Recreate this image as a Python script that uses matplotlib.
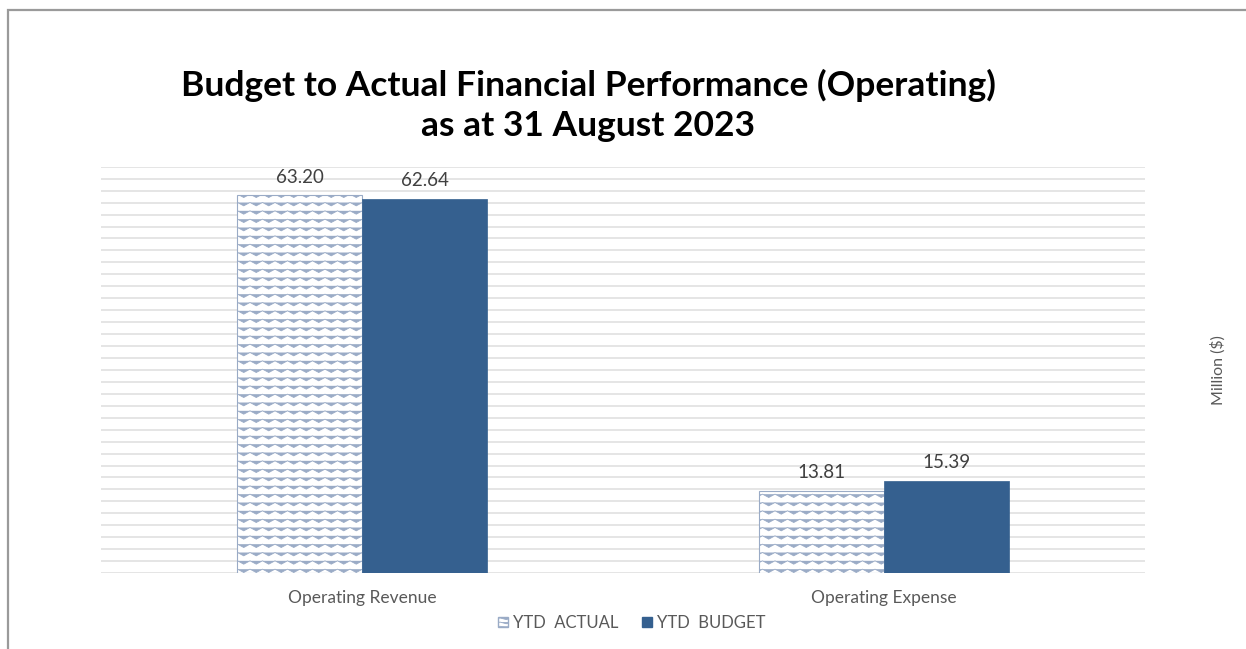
import warnings
import numpy as np
import matplotlib
matplotlib.use("Agg")
import matplotlib.pyplot as plt
from matplotlib import hatch as mhatch
from matplotlib.patches import Patch, Rectangle
from matplotlib.path import Path

categories = ["Operating Revenue", "Operating Expense"]
series_names = ["YTD  ACTUAL", "YTD  BUDGET"]
ytd_actual = [63.20, 13.81]
ytd_budget = [62.64, 15.39]

title = "Budget to Actual Financial Performance (Operating)\nas at 31 August 2023"
unit_label = "Million ($)"

dark_blue = "#35608f"
hatch_edge = "#9aabc6"
text_grey = "#595959"
grid_grey = "#e0e0e0"


# zigzag rows used for the actual bars ("~" in a hatch string)
class WaveHatch(mhatch.HatchPatternBase):
    periods = 8
    def __init__(self, hatch, density):
        self.num_rows = int(hatch.count("~") * density)
        self.num_vertices = self.num_rows * (2 * self.periods + 1)

    def set_vertices_and_codes(self, vertices, codes):
        pts_per_row = 2 * self.periods + 1
        xs = np.linspace(0, 1, pts_per_row)
        amp = 0.2 / max(self.num_rows, 1)
        wiggle = np.where(np.arange(pts_per_row) % 2 == 0, amp, -amp)
        for i in range(self.num_rows):
            y = (i + 0.5) / self.num_rows
            sl = slice(i * pts_per_row, (i + 1) * pts_per_row)
            vertices[sl, 0] = xs
            vertices[sl, 1] = y + wiggle
            codes[sl] = Path.LINETO
            codes[i * pts_per_row] = Path.MOVETO


mhatch._hatch_types.append(WaveHatch)
warnings.filterwarnings("ignore")

plt.rcParams["font.family"] = ["Lato", "DejaVu Sans"]
plt.rcParams["hatch.linewidth"] = 0.6

fig = plt.figure(figsize=(12.46, 6.49), dpi=100)
ax = fig.add_axes([0.0811, 0.117, 0.838, 0.626])

x = np.arange(len(categories))
w = 0.24
bars_a = ax.bar(x - w / 2, ytd_actual, w, color="white", edgecolor=hatch_edge,
                hatch="~~", linewidth=0.8, zorder=3, label=series_names[0])
bars_b = ax.bar(x + w / 2, ytd_budget, w, color=dark_blue, edgecolor=dark_blue,
                linewidth=0.5, zorder=3, label=series_names[1])

for bars, vals in ((bars_a, ytd_actual), (bars_b, ytd_budget)):
    ax.bar_label(bars, labels=[f"{v:.2f}" for v in vals], padding=7,
                 fontsize=13.5, color="#404040")

ax.set_xlim(-0.5, 1.5)
ax.set_ylim(0, 68)
ax.set_yticks(np.arange(0, 69, 2))
ax.yaxis.grid(True, color=grid_grey, linewidth=1.2, zorder=0)
ax.tick_params(axis="y", left=False, labelleft=False)
ax.tick_params(axis="x", bottom=False, labelsize=12.5, labelcolor=text_grey, pad=9)
ax.set_xticks(x)
ax.set_xticklabels(categories)
for s in ax.spines.values():
    s.set_visible(False)

ax.yaxis.set_label_position("right")
ax.set_ylabel(unit_label, fontsize=11.5, color=text_grey, labelpad=47)

fig.text(0.472, 0.837, title, ha="center", va="center", fontsize=25.5,
         fontweight="bold", color="black", linespacing=1.3)

handles = [Patch(facecolor="white", edgecolor=hatch_edge, hatch="~~~~", label=series_names[0]),
           Patch(facecolor=dark_blue, edgecolor=dark_blue, label=series_names[1])]
fig.legend(handles=handles, loc="center", bbox_to_anchor=(0.507, 0.04), ncol=2,
           frameon=False, fontsize=12, labelcolor=text_grey, handlelength=0.6,
           handleheight=0.6, handletextpad=0.3, columnspacing=1.4)

# outer frame of the chart area
fig.patches.append(Rectangle((0.0064, -0.05), 1.1, 1.035, transform=fig.transFigure,
                             fill=False, edgecolor="#9a9a9a", linewidth=1.6))

fig.savefig("out.png", dpi=100, facecolor="white")
